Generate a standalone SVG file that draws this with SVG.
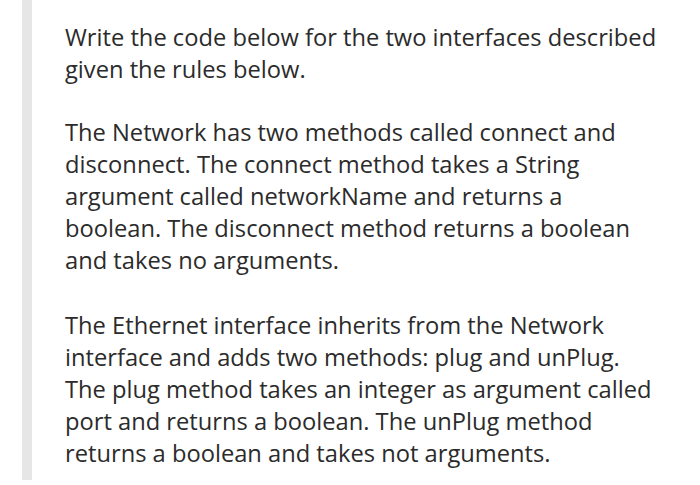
<svg xmlns="http://www.w3.org/2000/svg" width="700" height="485" viewBox="0 0 700 485">
<style>text{font-family:"Open Sans",sans-serif;font-size:23.7px;fill:#2b2b2b}</style>
<rect width="700" height="485" fill="#fff"/>
<rect x="22" y="0" width="10" height="480" fill="#e6e6e6"/>
<text x="65" y="46">Write the code below for the two interfaces described</text>
<text x="65" y="78">given the rules below.</text>
<text x="65" y="141">The Network has two methods called connect and</text>
<text x="65" y="173">disconnect. The connect method takes a String</text>
<text x="65" y="205">argument called networkName and returns a</text>
<text x="65" y="237">boolean. The disconnect method returns a boolean</text>
<text x="65" y="269">and takes no arguments.</text>
<text x="65" y="334">The Ethernet interface inherits from the Network</text>
<text x="65" y="366">interface and adds two methods: plug and unPlug.</text>
<text x="65" y="398">The plug method takes an integer as argument called</text>
<text x="65" y="430">port and returns a boolean. The unPlug method</text>
<text x="65" y="462">returns a boolean and takes not arguments.</text>
</svg>
